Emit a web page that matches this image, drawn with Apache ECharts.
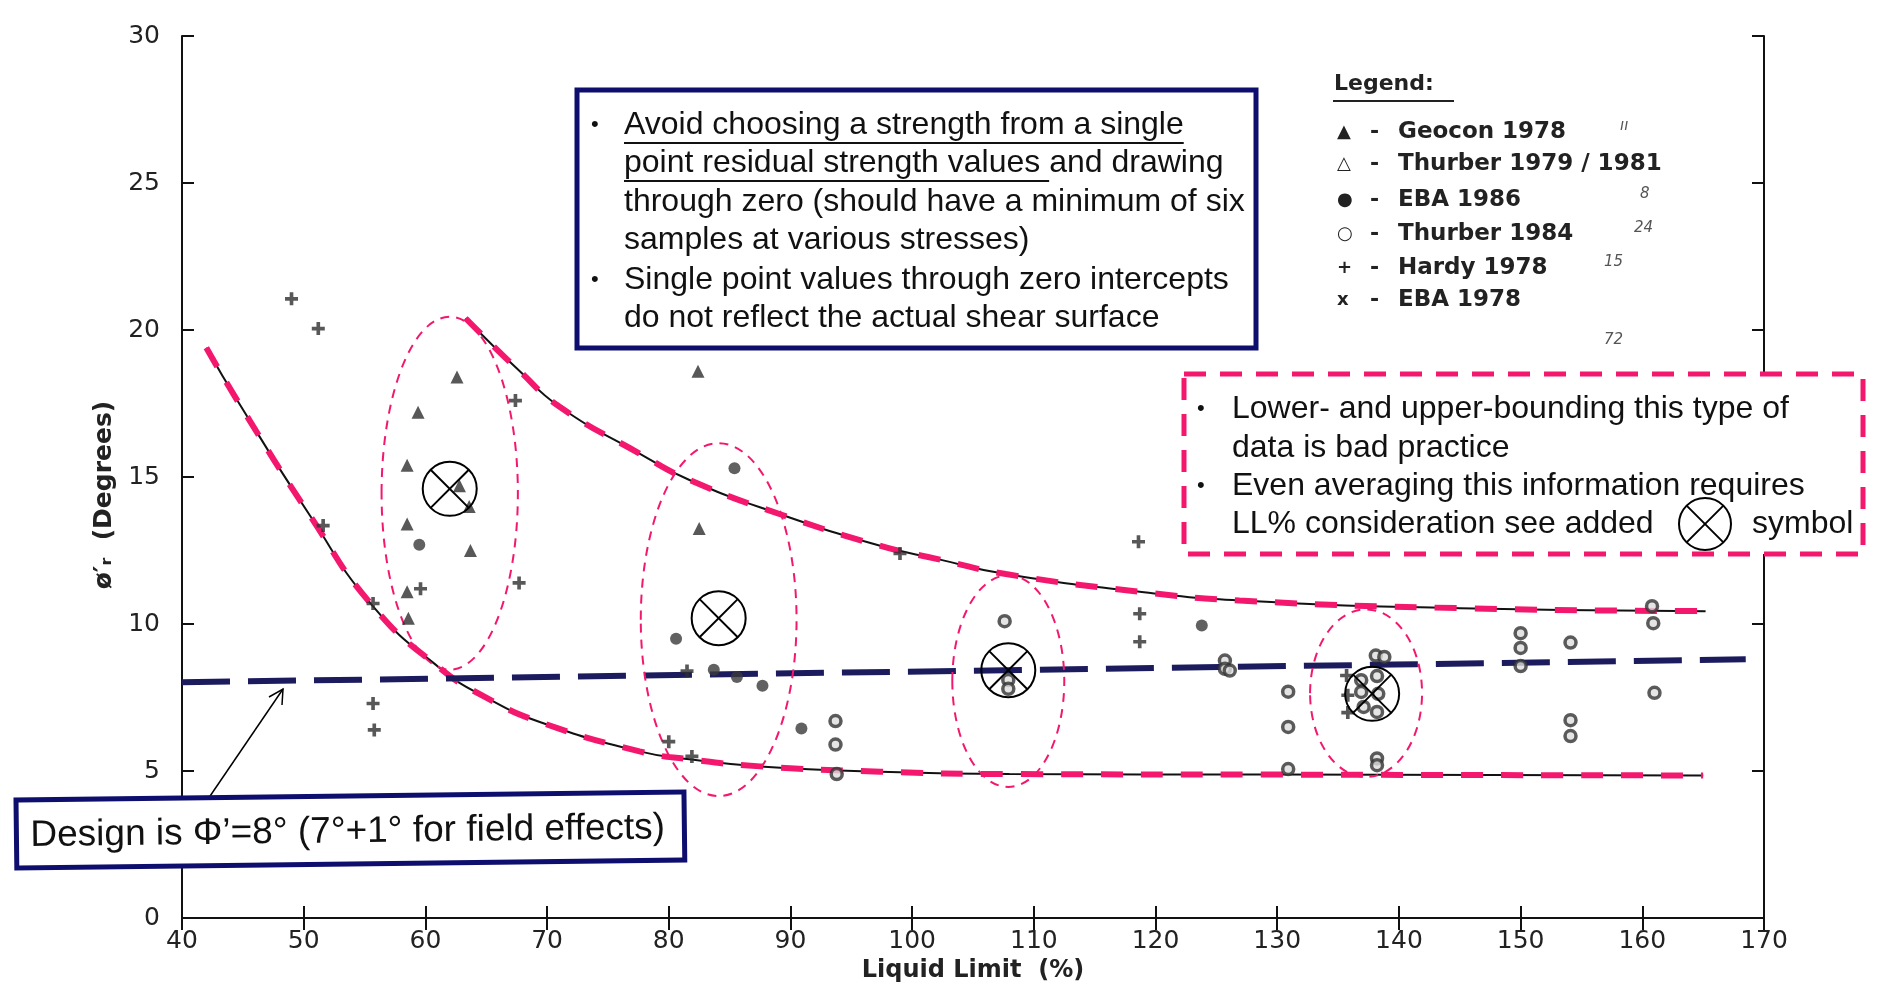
<!DOCTYPE html>
<html>
<head>
<meta charset="utf-8">
<script src="https://cdn.jsdelivr.net/npm/echarts@6/dist/echarts.min.js"></script>
<style>
html, body { margin: 0; padding: 0; background: #fff; }
#chart { width: 1881px; height: 988px; }
</style>
</head>
<body>
<div id="chart"></div>
<script>
// residual friction angle vs liquid limit
const geocon1978 = [[62.6, 18.4], [59.4, 17.2], [58.5, 15.4], [62.8, 14.7], [63.6, 14.0], [58.5, 13.4],
    [63.7, 12.5], [58.5, 11.1], [58.6, 10.2], [82.4, 18.6], [82.5, 13.25]];
const eba1986 = [[59.5, 12.7], [85.4, 15.3], [80.6, 9.5], [83.7, 8.45], [85.6, 8.2], [87.7, 7.9],
    [90.9, 6.45], [123.8, 9.95]];
const thurber1984 = [[93.7, 6.7], [93.7, 5.9], [93.8, 4.9], [107.6, 10.1], [107.9, 8.1], [107.9, 7.8],
    [125.7, 8.76], [125.7, 8.48], [126.1, 8.42], [130.9, 7.7], [130.9, 6.5], [130.9, 5.07],
    [138.1, 8.93], [138.8, 8.88], [138.2, 8.23], [136.9, 8.09], [136.9, 7.69], [138.3, 7.63],
    [137.1, 7.18], [138.2, 7.01], [138.2, 5.43], [138.2, 5.2], [150.0, 9.69], [150.0, 9.19],
    [150.0, 8.57], [154.1, 9.37], [154.1, 6.73], [154.1, 6.19], [160.8, 10.61], [160.9, 10.03], [161.0, 7.66]];
const hardy1978 = [[49.0, 21.06], [51.2, 20.05], [67.4, 17.6], [51.6, 13.35], [67.7, 11.4], [59.6, 11.2],
    [55.7, 10.7], [55.7, 7.3], [55.8, 6.4], [81.5, 8.4], [80.0, 6.0], [81.9, 5.5], [99.0, 12.4],
    [118.6, 12.8], [118.7, 10.35], [118.7, 9.4], [135.7, 8.25], [135.8, 7.58], [135.8, 6.99]];

const upperBound = [[63.3, 20.4], [65.6, 19.45], [67.5, 18.7], [71.0, 17.4], [77.6, 15.8], [81.7, 14.9],
    [89.4, 13.7], [97.3, 12.67], [102.2, 12.2], [107.7, 11.7], [118.7, 11.1], [126.9, 10.8],
    [145.0, 10.54], [165.2, 10.44]];
const lowerBound = [[42.0, 19.4], [44.7, 17.5], [50.5, 13.7], [55.7, 10.6], [61.2, 8.5], [65.0, 7.5],
    [69.4, 6.67], [77.6, 5.67], [81.7, 5.4], [87.5, 5.16], [97.4, 4.98], [108.0, 4.9], [130.0, 4.88],
    [165.0, 4.85]];
const designLine = [[40, 8.02], [168.5, 8.8]];

// added "average" symbols and the groups circled around them
const averages = [[62.0, 14.6], [84.1, 10.2], [107.9, 8.43], [137.8, 7.63]];
const groupCentres = [[62.0, 14.45], [84.1, 10.15], [107.9, 8.06], [137.3, 7.65]];
const groupHalfSpans = [[5.6, 6.0], [6.4, 6.0], [4.6, 3.6], [4.6, 2.85]];

const xMin = 40, xMax = 170, xStep = 10;
const yMin = 0, yMax = 30, yStep = 5;

const pink = '#f3186d';
const navy = '#0e0e6e';
const ink = '#2e2e2e';
const letterFont = '"DejaVu Sans"';
const slideFont = '"Liberation Sans"';
const boxFont = '32px ' + slideFont;

const plusPath = 'path://M3.6,0L6.4,0L6.4,3.6L10,3.6L10,6.4L6.4,6.4L6.4,10L3.6,10L3.6,6.4L0,6.4L0,3.6L3.6,3.6Z';

const chart = echarts.init(document.getElementById('chart'));

// width of a string in the box font, for the underlines
const measureCtx = document.createElement('canvas').getContext('2d');
function textWidth(str, font) {
    measureCtx.font = font;
    return measureCtx.measureText(str).width;
}

function boundSeries(name, data) {
    return [
        {
            name: name, type: 'line', data: data, smooth: true, showSymbol: false, z: 3,
            lineStyle: { color: '#111', width: 2 }
        },
        {
            name: name + ' overlay', type: 'line', data: data, smooth: true, showSymbol: false, z: 4,
            lineStyle: { color: pink, width: 6, type: [22, 18] }
        }
    ];
}

function textLine(text, x, y, opts) {
    return {
        type: 'text', x: x, y: y, z: 101,
        style: Object.assign({
            text: text, font: boxFont, fill: '#111', verticalAlign: 'middle'
        }, opts || {})
    };
}

function crossedCircleGraphic(cx, cy, r) {
    const d = r * 0.7071;
    return [
        { type: 'circle', z: 101, shape: { cx: cx, cy: cy, r: r }, style: { fill: 'none', stroke: '#000', lineWidth: 2 } },
        { type: 'line', z: 101, shape: { x1: cx - d, y1: cy - d, x2: cx + d, y2: cy + d }, style: { stroke: '#000', lineWidth: 2 } },
        { type: 'line', z: 101, shape: { x1: cx + d, y1: cy - d, x2: cx - d, y2: cy + d }, style: { stroke: '#000', lineWidth: 2 } }
    ];
}

const legendRows = [
    ['\u25B2', 'Geocon 1978', '\u0131\u0131'],
    ['\u25B3', 'Thurber 1979 / 1981', ''],
    ['\u25CF', 'EBA 1986', '8'],
    ['\u25CB', 'Thurber 1984', '24'],
    ['+', 'Hardy 1978', '15'],
    ['x', 'EBA 1978', '']
];
const legendY = [132, 164, 200, 234, 268, 300];
const noteX = [1620, 0, 1640, 1634, 1604, 0];

const graphics = [];
// legend block
graphics.push(textLine('Legend:', 1334, 84, { font: 'bold 22px ' + letterFont, fill: '#222' }));
graphics.push({ type: 'line', z: 101, shape: { x1: 1333, y1: 101, x2: 1454, y2: 101 }, style: { stroke: '#222', lineWidth: 2 } });
legendRows.forEach(function (row, i) {
    graphics.push(textLine(row[0], 1337, legendY[i], { font: 'bold 18px ' + letterFont, fill: '#222' }));
    graphics.push(textLine('-', 1370, legendY[i], { font: 'bold 22px ' + letterFont, fill: '#222' }));
    graphics.push(textLine(row[1], 1398, legendY[i], { font: 'bold 23px ' + letterFont, fill: '#222' }));
    if (row[2]) {
        graphics.push(textLine(row[2], noteX[i], legendY[i] - 6, { font: 'italic 15px ' + letterFont, fill: '#555' }));
    }
});
graphics.push(textLine('72', 1604, 340, { font: 'italic 15px ' + letterFont, fill: '#555' }));

// upper text box
graphics.push({ type: 'rect', z: 100, shape: { x: 577, y: 90, width: 679, height: 258 },
    style: { fill: '#fff', stroke: navy, lineWidth: 5 } });
const box1Lines = [
    'Avoid choosing a strength from a single',
    'point residual strength values and drawing',
    'through zero (should have a minimum of six',
    'samples at various stresses)',
    'Single point values through zero intercepts',
    'do not reflect the actual shear surface'
];
const box1Y = [125, 163, 202, 240, 280, 318];
box1Lines.forEach(function (t, i) { graphics.push(textLine(t, 624, box1Y[i])); });
graphics.push(textLine('\u2022', 591, 125, { font: '22px ' + slideFont }));
graphics.push(textLine('\u2022', 591, 280, { font: '22px ' + slideFont }));
const underline1 = textWidth('Avoid choosing a strength from a single', boxFont);
const underline2 = textWidth('point residual strength values ', boxFont);
graphics.push({ type: 'line', z: 101, shape: { x1: 624, y1: 143, x2: 624 + underline1, y2: 143 }, style: { stroke: '#111', lineWidth: 2 } });
graphics.push({ type: 'line', z: 101, shape: { x1: 624, y1: 181, x2: 624 + underline2, y2: 181 }, style: { stroke: '#111', lineWidth: 2 } });

// right dashed text box
graphics.push({ type: 'rect', z: 100, shape: { x: 1184, y: 374, width: 679, height: 180 },
    style: { fill: '#fff', stroke: pink, lineWidth: 5, lineDash: [22, 14] } });
const box3Lines = [
    'Lower- and upper-bounding this type of',
    'data is bad practice',
    'Even averaging this information requires',
    'LL% consideration see added'
];
const box3Y = [409, 448, 486, 524];
box3Lines.forEach(function (t, i) { graphics.push(textLine(t, 1232, box3Y[i])); });
graphics.push(textLine('\u2022', 1197, 409, { font: '22px ' + slideFont }));
graphics.push(textLine('\u2022', 1197, 486, { font: '22px ' + slideFont }));
graphics.push(textLine('symbol', 1752, 524));
crossedCircleGraphic(1705, 524, 26).forEach(function (g) { graphics.push(g); });

// design box and arrow
graphics.push({ type: 'line', z: 99, shape: { x1: 206, y1: 802, x2: 283, y2: 689 }, style: { stroke: '#000', lineWidth: 1.5 } });
graphics.push({ type: 'polyline', z: 99, shape: { points: [[269, 697], [283, 689], [282, 705]] }, style: { stroke: '#000', lineWidth: 1.5, fill: 'none' } });
graphics.push({
    type: 'group', z: 100, x: 16, y: 800, rotation: 0.012,
    children: [
        { type: 'rect', z: 100, shape: { x: 0, y: 0, width: 668, height: 68 }, style: { fill: '#fff', stroke: navy, lineWidth: 5 } },
        { type: 'text', z: 101, x: 14, y: 36, style: { text: 'Design is \u03A6\u2019=8\u00B0 (7\u00B0+1\u00B0 for field effects)',
            font: '37px ' + slideFont, fill: '#111', verticalAlign: 'middle' } }
    ]
});

const axisText = { fontFamily: letterFont, fontSize: 25, color: '#222' };

const option = {
    backgroundColor: '#fff',
    animation: false,
    grid: { left: 182, right: 117, top: 36, bottom: 68 },
    xAxis: [
        {
            type: 'value', min: xMin, max: xMax, interval: xStep, position: 'bottom',
            name: 'Liquid Limit  (%)', nameLocation: 'middle', nameGap: 32,
            nameTextStyle: { fontFamily: letterFont, fontWeight: 'bold', fontSize: 24, color: '#222' },
            axisLine: { lineStyle: { color: '#111', width: 2 } },
            axisTick: { inside: true, length: 12, lineStyle: { color: '#111', width: 2 } },
            axisLabel: Object.assign({ margin: 11 }, axisText),
            splitLine: { show: false }
        },
        {
            type: 'value', min: xMin, max: xMax, interval: xStep, position: 'top',
            axisLine: { lineStyle: { color: '#111', width: 2 } },
            axisTick: { inside: true, length: 12, lineStyle: { color: '#111', width: 2 } },
            axisLabel: { show: false },
            splitLine: { show: false }
        }
    ],
    yAxis: [
        {
            type: 'value', min: yMin, max: yMax, interval: yStep, position: 'left',
            name: '\u00F8\u2032\u1D63  (Degrees)', nameLocation: 'middle', nameGap: 62, nameRotate: 90,
            nameTextStyle: { fontFamily: letterFont, fontWeight: 'bold', fontSize: 25, color: '#222', padding: [0, 0, 0, -36] },
            axisLine: { lineStyle: { color: '#111', width: 2 } },
            axisTick: { inside: true, length: 12, lineStyle: { color: '#111', width: 2 } },
            axisLabel: Object.assign({ margin: 22 }, axisText),
            splitLine: { show: false }
        },
        {
            type: 'value', min: yMin, max: yMax, interval: yStep, position: 'right',
            axisLine: { lineStyle: { color: '#111', width: 2 } },
            axisTick: { inside: true, length: 12, lineStyle: { color: '#111', width: 2 } },
            axisLabel: { show: false },
            splitLine: { show: false }
        }
    ],
    series: [].concat(
        boundSeries('Upper bound', upperBound),
        boundSeries('Lower bound', lowerBound),
        [
            {
                name: 'Design', type: 'line', data: designLine, showSymbol: false, z: 5,
                lineStyle: { color: '#1b1b5e', width: 6, type: [48, 18] }
            },
            {
                name: 'Groups', type: 'custom', z: 6,
                data: groupCentres.map(function (c, i) { return [c[0], c[1], groupHalfSpans[i][0], groupHalfSpans[i][1]]; }),
                renderItem: function (params, api) {
                    const c = api.coord([api.value(0), api.value(1)]);
                    const s = api.size([api.value(2), api.value(3)]);
                    return {
                        type: 'ellipse',
                        shape: { cx: c[0], cy: c[1], rx: s[0], ry: s[1] },
                        style: { fill: 'none', stroke: pink, lineWidth: 2, lineDash: [9, 7] }
                    };
                }
            },
            {
                name: 'Geocon 1978', type: 'scatter', data: geocon1978, symbol: 'triangle', symbolSize: 13, z: 7,
                itemStyle: { color: ink }
            },
            {
                name: 'EBA 1986', type: 'scatter', data: eba1986, symbol: 'circle', symbolSize: 12, z: 7,
                itemStyle: { color: '#3a3a3a' }
            },
            {
                name: 'Thurber 1984', type: 'scatter', data: thurber1984, symbol: 'circle', symbolSize: 11, z: 7,
                itemStyle: { color: '#ddd', borderColor: '#333', borderWidth: 3.5 }
            },
            {
                name: 'Hardy 1978', type: 'scatter', data: hardy1978, symbol: plusPath, symbolSize: 13, z: 7,
                itemStyle: { color: ink }
            },
            {
                name: 'Averages', type: 'custom', z: 8, data: averages,
                renderItem: function (params, api) {
                    const c = api.coord([api.value(0), api.value(1)]);
                    const r = 27, d = r * 0.7071;
                    return {
                        type: 'group',
                        children: [
                            { type: 'circle', shape: { cx: c[0], cy: c[1], r: r }, style: { fill: 'none', stroke: '#000', lineWidth: 2 } },
                            { type: 'line', shape: { x1: c[0] - d, y1: c[1] - d, x2: c[0] + d, y2: c[1] + d }, style: { stroke: '#000', lineWidth: 2 } },
                            { type: 'line', shape: { x1: c[0] + d, y1: c[1] - d, x2: c[0] - d, y2: c[1] + d }, style: { stroke: '#000', lineWidth: 2 } }
                        ]
                    };
                }
            }
        ]
    ),
    graphic: graphics
};

chart.setOption(option);
</script>
</body>
</html>
